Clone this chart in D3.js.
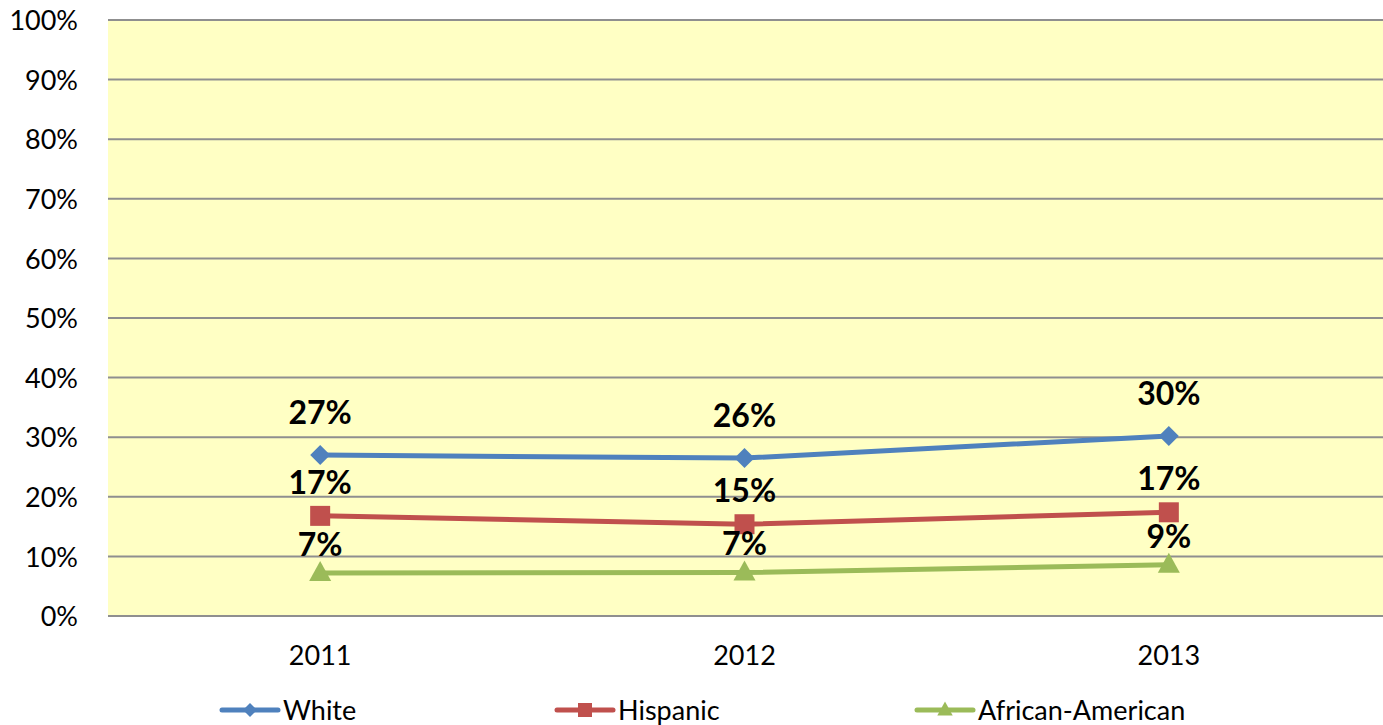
<!DOCTYPE html>
<html>
<head>
<meta charset="utf-8">
<script src="https://cdn.jsdelivr.net/npm/d3@7"></script>
<style>
  html, body { margin: 0; padding: 0; background: #fff; }
  svg { display: block; }
</style>
</head>
<body>
<svg id="chart" width="1383" height="725"></svg>
<script>
const categories = ["2011", "2012", "2013"];
const seriesNames = ["White", "Hispanic", "African-American"];
const whiteValues = [0.270, 0.265, 0.302];
const hispanicValues = [0.168, 0.154, 0.174];
const africanAmericanValues = [0.072, 0.073, 0.086];
const whiteLabels = ["27%", "26%", "30%"];
const hispanicLabels = ["17%", "15%", "17%"];
const africanAmericanLabels = ["7%", "7%", "9%"];
const yTicks = [0, 0.1, 0.2, 0.3, 0.4, 0.5, 0.6, 0.7, 0.8, 0.9, 1.0];

const series = [
  { name: seriesNames[0], values: whiteValues, labels: whiteLabels, color: "#4F81BD", marker: "diamond", labelOffset: 31 },
  { name: seriesNames[1], values: hispanicValues, labels: hispanicLabels, color: "#C0504D", marker: "square", labelOffset: 22 },
  { name: seriesNames[2], values: africanAmericanValues, labels: africanAmericanLabels, color: "#9BBB59", marker: "triangle", labelOffset: 17 }
];

const svg = d3.select("#chart");
const font = "Lato, 'Open Sans', sans-serif";

const x = d3.scaleBand().domain(categories).range([108, 1381]);
const y = d3.scaleLinear().domain([0, 1]).range([616, 20]);

// plot background
svg.append("rect")
  .attr("x", 108).attr("y", 20)
  .attr("width", 1383 - 108).attr("height", 616 - 20)
  .attr("fill", "#FFFFC4");

// gridlines
svg.append("g").selectAll("line").data(yTicks).join("line")
  .attr("x1", 108).attr("x2", 1383)
  .attr("y1", d => y(d)).attr("y2", d => y(d))
  .attr("stroke", "#8f8f8f").attr("stroke-width", 2);

// y axis labels
const yAxis = d3.axisLeft(y).tickValues(yTicks).tickFormat(d3.format(".0%")).tickSize(0).tickPadding(0);
const yg = svg.append("g").attr("transform", "translate(78,0)").call(yAxis);
yg.select(".domain").remove();
yg.selectAll("text").attr("font-family", font).attr("font-size", 27).attr("fill", "#000").attr("dy", "0.36em");

// x axis labels
const xAxis = d3.axisBottom(x).tickSize(0).tickPadding(0);
const xg = svg.append("g").attr("transform", "translate(0,646)").call(xAxis);
xg.select(".domain").remove();
xg.selectAll("text").attr("font-family", font).attr("font-size", 27).attr("fill", "#000").attr("dy", "0.72em");

const cx = c => x(c) + x.bandwidth() / 2;

function markerPath(type, s) {
  if (type === "diamond") return `M0,${-s}L${s},0L0,${s}L${-s},0Z`;
  if (type === "square") return `M${-s},${-s}H${s}V${s}H${-s}Z`;
  return `M0,${-1.2 * s}L${1.1 * s},${0.8 * s}H${-1.1 * s}Z`;
}

series.forEach(s => {
  const pts = categories.map((c, i) => [cx(c), y(s.values[i])]);
  svg.append("path")
    .attr("d", d3.line()(pts))
    .attr("fill", "none").attr("stroke", s.color).attr("stroke-width", 5)
    .attr("stroke-linejoin", "round").attr("stroke-linecap", "round");
  svg.append("g").selectAll("path").data(pts).join("path")
    .attr("transform", d => `translate(${d[0]},${d[1]})`)
    .attr("d", markerPath(s.marker, 10))
    .attr("fill", s.color);
  svg.append("g").selectAll("text").data(pts).join("text")
    .attr("x", d => d[0]).attr("y", (d) => d[1] - s.labelOffset)
    .attr("text-anchor", "middle")
    .attr("font-family", font).attr("font-size", 32).attr("font-weight", "bold")
    .attr("fill", "#000")
    .text((d, i) => s.labels[i]);
});

// legend
const legendX = [222, 557, 917];
series.forEach((s, i) => {
  const g = svg.append("g").attr("transform", `translate(${legendX[i]},710)`);
  g.append("line").attr("x1", 0).attr("x2", 56).attr("y1", 0).attr("y2", 0)
    .attr("stroke", s.color).attr("stroke-width", 5).attr("stroke-linecap", "round");
  g.append("path").attr("transform", "translate(28,0)").attr("d", markerPath(s.marker, 7)).attr("fill", s.color);
  g.append("text").attr("x", 61).attr("y", 0).attr("dy", "0.36em")
    .attr("font-family", font).attr("font-size", 27).attr("fill", "#000")
    .text(s.name);
});
</script>
</body>
</html>
